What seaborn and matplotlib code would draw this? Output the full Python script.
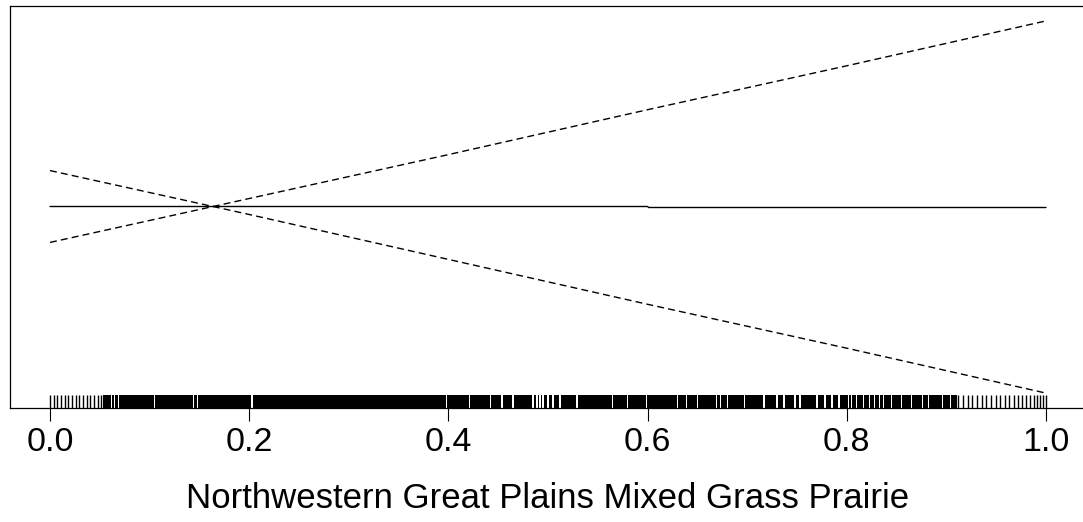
"""
Partial dependence style plot with confidence bands and rug.
"""

import numpy as np
import matplotlib
matplotlib.use("Agg")
import matplotlib.pyplot as plt
import seaborn as sns

# ── Data ────────────────────────────────────────────────────
X_BAND = [0.0, 0.2, 0.4, 0.6, 0.8, 1.0]
UPPER = [-0.36, 0.08, 0.52, 0.97, 1.41, 1.86]
LOWER = [0.36, -0.08, -0.53, -0.98, -1.42, -1.87]

X_FIT = [0.0, 0.6, 0.601, 1.0]
FIT = [0.0, 0.0, -0.01, -0.01]

# individual rug ticks where observations are sparse
RUG_LEFT = [0.000, 0.004, 0.007, 0.011, 0.015, 0.018, 0.022, 0.026, 0.029,
            0.033, 0.037, 0.040, 0.044, 0.048, 0.051]
RUG_RIGHT = [0.912, 0.917, 0.922, 0.926, 0.931, 0.936, 0.940, 0.945, 0.950,
             0.954, 0.959, 0.963, 0.968, 0.972, 0.976, 0.980, 0.984, 0.988,
             0.991, 0.994, 0.997, 1.000]

# dense part of the rug: solid black from start to end, with these empty spots
DENSE_START, DENSE_END = 0.053, 0.911
DENSE_GAPS = [0.062, 0.065, 0.069, 0.105, 0.144, 0.148, 0.203, 0.398, 0.421,
              0.442, 0.454, 0.465, 0.485, 0.489, 0.492, 0.495, 0.500, 0.505,
              0.512, 0.529, 0.565, 0.580, 0.599, 0.630, 0.639, 0.650, 0.669,
              0.673, 0.680, 0.697, 0.717, 0.730, 0.737, 0.748, 0.753, 0.770,
              0.778, 0.785, 0.792, 0.802, 0.805, 0.810, 0.817, 0.823, 0.828,
              0.833, 0.837, 0.845, 0.855, 0.865, 0.876, 0.882, 0.896, 0.904]

X_TICKS = [0.0, 0.2, 0.4, 0.6, 0.8, 1.0]
X_LABEL = "Northwestern Great Plains Mixed Grass Prairie"

# ── Style ───────────────────────────────────────────────────
sns.set_style("white")
plt.rcParams["font.family"] = ["Liberation Sans", "DejaVu Sans"]

W, H = 1083, 522
fig = plt.figure(figsize=(W / 100, H / 100), dpi=100)
x0, x1 = -0.04, 1.04
px0 = 50 - 0.04 * 996
ax = fig.add_axes([px0 / W, (H - 408) / H, (x1 - x0) * 996 / W, (408 - 6) / H])

dash = (0, (5, 3))
sns.lineplot(x=X_FIT, y=FIT, ax=ax, color="black", lw=1.0, estimator=None)
sns.lineplot(x=X_BAND, y=UPPER, ax=ax, color="black", lw=1.0, linestyle=dash)
sns.lineplot(x=X_BAND, y=LOWER, ax=ax, color="black", lw=1.0, linestyle=dash)

# rug
rug_h = 13 / 402
sns.rugplot(x=RUG_LEFT + RUG_RIGHT, ax=ax, height=rug_h, color="black",
            lw=1.3, clip_on=False)
hw = 0.0007
edges = [DENSE_START]
for g in DENSE_GAPS:
    edges += [g - hw, g + hw]
edges.append(DENSE_END)
runs = [(a, b - a) for a, b in zip(edges[::2], edges[1::2])]
ax.broken_barh(runs, (0, rug_h), facecolor="black", edgecolor="none",
               transform=ax.get_xaxis_transform())

lo, hi = min(LOWER), max(UPPER)
pad = 0.04 * (hi - lo)
ax.set_xlim(x0, x1)
ax.set_ylim(lo - pad, hi + pad)
ax.set_yticks([])
ax.set_xticks(X_TICKS)
ax.set_xticklabels([f"{t:.1f}" for t in X_TICKS])
ax.tick_params(axis="x", bottom=True, length=9, width=0.8, color="black",
               pad=5, labelsize=24.5, labelcolor="black")
ax.set_xlabel(X_LABEL, fontsize=25, color="black", labelpad=17)
ax.set_ylabel("")
for s in ax.spines.values():
    s.set_visible(True)
    s.set_color("black")
    s.set_linewidth(0.9)

fig.savefig("out.png", dpi=100)
